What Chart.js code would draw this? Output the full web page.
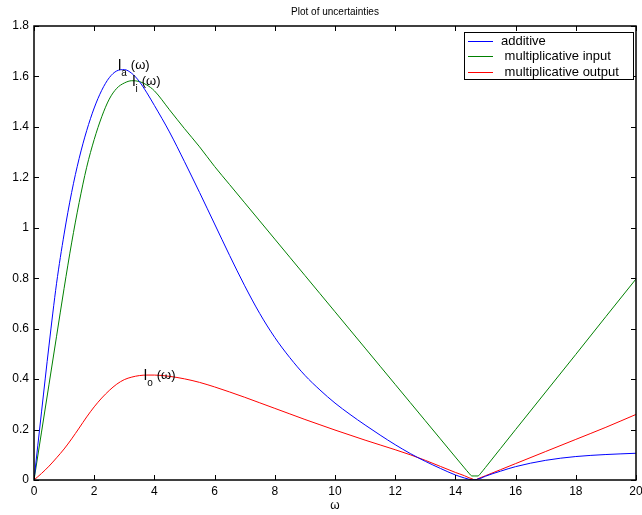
<!DOCTYPE html>
<html><head><meta charset="utf-8">
<script src="https://cdn.jsdelivr.net/npm/chart.js@4"></script>
<style>html,body{margin:0;padding:0;background:#fff}#wrap{width:642px;height:515px}</style>
</head><body><div id="wrap"><canvas id="c" width="642" height="515"></canvas></div>
<script>
const omega      = [0,0.25,0.5,0.75,1,1.25,1.5,1.75,2,2.25,2.5,2.75,3,3.25,3.5,3.75,4,4.5,5,5.5,6,6.5,7,7.5,8,8.5,9,9.5,10,10.5,11,11.5,12,12.5,13,13.5,14,14.3,14.45,14.55,14.65,14.75,14.85,15,15.5,16,17,18,19,20];
const additive   = [0,0.27,0.535,0.78,0.975,1.14,1.275,1.385,1.475,1.545,1.595,1.622,1.627,1.612,1.58,1.535,1.485,1.38,1.262,1.14,1.015,0.89,0.77,0.66,0.565,0.485,0.415,0.357,0.305,0.26,0.218,0.178,0.14,0.105,0.074,0.046,0.02,0.008,0.003,0.001,0.0,0.004,0.007,0.015,0.035,0.053,0.078,0.093,0.101,0.106];
const multInput  = [0,0.19,0.38,0.57,0.76,0.94,1.10,1.24,1.35,1.44,1.51,1.553,1.574,1.583,1.58,1.566,1.543,1.468,1.393,1.321,1.243,1.171,1.099,1.027,0.955,0.883,0.811,0.739,0.667,0.595,0.523,0.451,0.379,0.307,0.235,0.163,0.091,0.048,0.027,0.016,0.016,0.016,0.028,0.05,0.125,0.20,0.349,0.498,0.648,0.797];
const multOutput = [0,0.026,0.055,0.088,0.123,0.163,0.206,0.25,0.29,0.325,0.355,0.38,0.398,0.408,0.414,0.416,0.416,0.411,0.401,0.387,0.369,0.349,0.328,0.306,0.284,0.262,0.24,0.219,0.198,0.178,0.158,0.139,0.12,0.10,0.078,0.054,0.03,0.017,0.009,0.005,0.0,0.005,0.010,0.017,0.041,0.065,0.113,0.161,0.209,0.26];
const xTickLabels = ['0','2','4','6','8','10','12','14','16','18','20'];
const yTickLabels = ['0','0.2','0.4','0.6','0.8','1','1.2','1.4','1.6','1.8'];
const seriesLabels = ['additive',' multiplicative input',' multiplicative output'];
const seriesColors = ['#0000ff','#008000','#ff0000'];
const annoSubs = ['a','i','o'];
const annoX = [2.79,3.26,3.65];
const annoY = [1.626,1.562,0.3965];

const FONT = "'Liberation Sans', Arial, Helvetica, sans-serif";
const series = [additive, multInput, multOutput];

const overlay = {
  id: 'overlay',
  afterDatasetsDraw(chart) {
    const ctx = chart.ctx, a = chart.chartArea;
    const xs = chart.scales.x, ys = chart.scales.y;
    ctx.save();
    ctx.strokeStyle = '#000';
    ctx.lineWidth = 1.5;
    ctx.strokeRect(a.left, a.top, a.right - a.left, a.bottom - a.top);
    ctx.lineWidth = 1;
    const tl = 5;
    ctx.beginPath();
    xs.ticks.forEach(t => {
      const px = Math.round(xs.getPixelForValue(t.value)) + 0.5;
      ctx.moveTo(px, a.bottom); ctx.lineTo(px, a.bottom - tl);
      ctx.moveTo(px, a.top); ctx.lineTo(px, a.top + tl);
    });
    ys.ticks.forEach(t => {
      const py = Math.round(ys.getPixelForValue(t.value)) + 0.5;
      ctx.moveTo(a.left, py); ctx.lineTo(a.left + tl, py);
      ctx.moveTo(a.right, py); ctx.lineTo(a.right - tl, py);
    });
    ctx.stroke();
    ctx.fillStyle = '#000';
    ctx.textBaseline = 'alphabetic';
    ctx.textAlign = 'left';
    annoSubs.forEach((s, i) => {
      const px = xs.getPixelForValue(annoX[i]);
      const py = ys.getPixelForValue(annoY[i]);
      ctx.font = '15px ' + FONT;
      ctx.fillText('l', px, py);
      const lw = ctx.measureText('l').width;
      ctx.font = '10px ' + FONT;
      ctx.fillText(s, px + lw, py + 6);
      const sw = ctx.measureText(s).width;
      ctx.font = '13px ' + FONT;
      ctx.fillText('(\u03c9)', px + lw + sw + 4, py - 1);
    });
    const bx = a.right - 172, by = a.top + 6, bw = 169, bh = 47;
    ctx.fillStyle = '#fff';
    ctx.fillRect(bx, by, bw, bh);
    ctx.strokeStyle = '#000';
    ctx.lineWidth = 1;
    ctx.strokeRect(bx + 0.5, by + 0.5, bw, bh);
    ctx.font = '13px ' + FONT;
    ctx.textBaseline = 'middle';
    chart.data.datasets.forEach((ds, i) => {
      const ry = Math.round(by + 8.5 + i * 15.8) + 0.5;
      ctx.strokeStyle = ds.borderColor;
      ctx.beginPath();
      ctx.moveTo(bx + 4, ry); ctx.lineTo(bx + 29, ry);
      ctx.stroke();
      ctx.fillStyle = '#000';
      ctx.fillText(ds.label, bx + 37, ry);
    });
    ctx.restore();
  }
};

new Chart(document.getElementById('c'), {
  type: 'line',
  data: {
    datasets: series.map((vals, k) => ({
      label: seriesLabels[k],
      data: omega.map((x, i) => ({ x: x, y: vals[i] })),
      borderColor: seriesColors[k],
      backgroundColor: seriesColors[k],
      borderWidth: 1,
      pointRadius: 0,
      fill: false,
      cubicInterpolationMode: 'monotone'
    }))
  },
  options: {
    responsive: false,
    animation: false,
    devicePixelRatio: 1,
    layout: { padding: { top: 0, right: 6, left: 0, bottom: 0 } },
    plugins: {
      legend: { display: false },
      tooltip: { enabled: false },
      title: {
        display: true,
        fullSize: false,
        text: 'Plot of uncertainties',
        color: '#000',
        font: { family: FONT, size: 10, weight: 'normal' },
        padding: { top: 6, bottom: 8 }
      }
    },
    scales: {
      x: {
        type: 'linear', min: 0, max: 20,
        grid: { display: false, drawTicks: false },
        border: { display: false },
        ticks: {
          stepSize: 2, color: '#000', padding: 4,
          font: { family: FONT, size: 12 },
          maxRotation: 0, autoSkip: false,
          callback: (v, i) => xTickLabels[i]
        },
        title: { display: true, text: '\u03c9', color: '#000', font: { family: FONT, size: 12 }, padding: { top: 0, bottom: 2 } },
        afterFit: s => { s.height = 35; s.paddingLeft = 0; s.paddingRight = 0; }
      },
      y: {
        type: 'linear', min: 0, max: 1.8,
        grid: { display: false, drawTicks: false },
        border: { display: false },
        ticks: {
          stepSize: 0.2, color: '#000', padding: 5,
          font: { family: FONT, size: 12 },
          autoSkip: false,
          callback: (v, i) => yTickLabels[i]
        },
        afterFit: s => { s.width = 34; s.paddingTop = 0; s.paddingBottom = 0; }
      }
    }
  },
  plugins: [overlay]
});
</script>
</body></html>
